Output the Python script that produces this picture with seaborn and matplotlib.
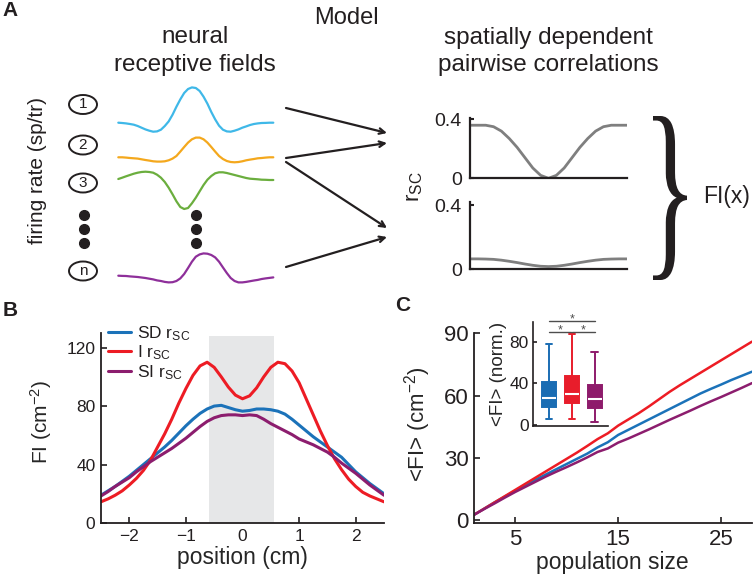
import numpy as np
import pandas as pd
import matplotlib
matplotlib.use("Agg")
import matplotlib.pyplot as plt
import seaborn as sns
from matplotlib.patches import Ellipse, PathPatch
from matplotlib.textpath import TextPath
from matplotlib.font_manager import FontProperties
from matplotlib.transforms import Affine2D
from matplotlib.colors import to_hex

#%% data
# panel A - schematic receptive fields (arbitrary units, relative to baseline)
rf_pos = [0, 0.025, 0.05, 0.075, 0.1, 0.125, 0.15, 0.175, 0.2, 0.225,
          0.25, 0.275, 0.3, 0.325, 0.35, 0.375, 0.4, 0.425, 0.45, 0.475,
          0.5, 0.525, 0.55, 0.575, 0.6, 0.625, 0.65, 0.675, 0.7, 0.725,
          0.75, 0.775, 0.8, 0.825, 0.85, 0.875, 0.9, 0.925, 0.95, 0.975, 1.0]
rf_1 = [0, -0.3, -0.7, -1.3, -2, -3.3, -5, -6.7, -8, -9,
        -8.7, -7, -3.3, 1.3, 8, 16, 23.3, 29.7, 33.7, 35.3,
        34.7, 31.7, 26, 19, 10.7, 3.3, -3, -7, -8.7, -9,
        -8, -6.7, -5, -3.7, -2.3, -1.3, -0.7, -0.3, -0.2, 0, 0]
rf_2 = [0, 0, -0.3, -0.7, -1, -1.3, -2, -2.7, -3.3, -4,
        -4.3, -4.3, -4, -3, -1.3, 1.3, 5.7, 10.3, 14.7, 18,
        19.7, 19.7, 18, 14.7, 10.3, 5.7, 1.3, -1.7, -3.7, -4.7,
        -5, -4.7, -4, -3, -2.3, -1.7, -1, -0.7, -0.3, 0, 0]
rf_3 = [0, 1.3, 2.7, 4, 5.3, 6.3, 7, 7.3, 7, 6.3,
        4.3, 1.3, -3, -8.7, -15.3, -22.3, -28, -30, -29, -24.3,
        -18.7, -12.3, -6, -0.7, 3, 5.7, 6.7, 6.7, 6, 5,
        4, 3, 2, 1, 0.3, 0, -0.3, -0.7, -0.8, -1, -1]
rf_n = [0, -0.2, -0.3, -0.7, -1, -1.3, -1.8, -2.3, -3, -3.7,
        -4.7, -5.3, -6.2, -6.7, -6.5, -5.3, -2.7, 1.7, 7.7, 14,
        19, 21.3, 22.3, 22, 20.7, 18.3, 14, 8.3, 2.7, -2.3,
        -5.3, -6.7, -6.7, -6.2, -5.5, -4.8, -4.2, -3.3, -2.7, -2.2, -1.7]
neuron_labels = ["1", "2", "3", "n"]

# panel A - spatially dependent r_sc
rsc_pos = [-1.0, -0.9, -0.8, -0.7, -0.6, -0.5, -0.4, -0.3, -0.2, -0.1, 0.0,
           0.1, 0.2, 0.3, 0.4, 0.5, 0.6, 0.7, 0.8, 0.9, 1.0]
rsc_top = [0.36, 0.36, 0.36, 0.35, 0.32, 0.27, 0.21, 0.14, 0.07, 0.02, 0.0,
           0.02, 0.07, 0.14, 0.21, 0.27, 0.32, 0.35, 0.36, 0.36, 0.36]
rsc_bottom = [0.065, 0.065, 0.064, 0.062, 0.057, 0.05, 0.042, 0.033, 0.025, 0.019, 0.017,
              0.019, 0.025, 0.033, 0.042, 0.05, 0.057, 0.062, 0.064, 0.065, 0.065]

# panel B - FI vs position
position = [-2.5, -2.375, -2.25, -2.125, -2.0, -1.875, -1.75, -1.625, -1.5, -1.375,
            -1.25, -1.125, -1.0, -0.875, -0.75, -0.625, -0.5, -0.375, -0.25, -0.125,
            0.0, 0.125, 0.25, 0.375, 0.5, 0.625, 0.75, 0.875, 1.0, 1.125,
            1.25, 1.375, 1.5, 1.625, 1.75, 1.875, 2.0, 2.125, 2.25, 2.375, 2.5]
fi_sd = [19, 22, 25, 28.5, 32, 36, 40, 44, 48, 52,
         56.5, 61.5, 66.5, 71, 75, 78, 80, 80.5, 79, 77.5,
         76.5, 77, 78, 78, 77.5, 76.5, 74.5, 71, 67, 63,
         59, 55.5, 52, 48.5, 45, 40, 35, 31, 27, 23.5, 20]
fi_i = [14.5, 16.5, 19, 22, 26, 30.5, 36, 43, 52, 61,
        71, 82, 92, 101, 107.5, 110, 106.5, 100, 93, 87.5,
        85, 87, 92.5, 100, 106.5, 110, 109, 104, 96, 85,
        74, 63, 53, 44, 36.5, 30, 25, 21, 18.5, 16.5, 14.5]
fi_si = [18.5, 21.5, 25, 28, 31, 35, 38.5, 42, 45, 48,
         51, 54.5, 58, 62, 66, 69.5, 72, 73.5, 74, 74,
         73.5, 74, 73.5, 71, 68, 65.5, 63, 60.5, 57.5, 55.5,
         53.5, 51, 48.5, 45, 41, 37.5, 34, 30, 26, 22.5, 19]

# panel C - mean FI vs population size
pop_size = [1, 2, 3, 4, 5, 6, 7, 8, 9, 10, 11, 12, 13, 14,
            15, 16, 17, 18, 19, 20, 21, 22, 23, 24, 25, 26, 27, 28]
mfi_sd = [2.5, 5.5, 8.5, 11.3, 14, 16.8, 19.5, 22, 24.5, 27, 29.5, 32, 35, 37.5,
          41, 43.5, 46, 48.5, 51, 53.5, 56, 58.5, 61, 63.2, 65.3, 67.5, 69.5, 71.5]
mfi_i = [2.5, 5.5, 8.5, 11.5, 14.5, 17.5, 20.5, 23.5, 26.5, 29.5, 32.5, 35.7, 39, 41.8,
         45.5, 48.5, 51.5, 54.8, 58.3, 61.8, 65, 68, 71, 74, 77, 80, 83, 86]
mfi_si = [2.5, 5.3, 8, 10.8, 13.5, 16, 18.5, 21, 23.3, 25.5, 27.8, 30.2, 32.8, 34.5,
          37.3, 39.3, 41.5, 43.7, 46, 48.3, 50.5, 52.7, 55, 57.2, 59.3, 61.5, 63.7, 66]

# inset - normalized <FI> summary (min, q1, median, q3, max)
box_sd = [5.5, 17.6, 26.2, 41.5, 77.4]
box_i = [6, 20.8, 29.7, 47, 87.3]
box_si = [2.6, 16, 24.6, 38.4, 69.7]

conds = ["SD", "I", "SI"]
line_colors = {"SD": "#1b72b9", "I": "#ed1c24", "SI": "#8c1d6e"}
box_colors = {"SD": "#1a6db3", "I": "#e81d2b", "SI": "#8e1b6b"}
rf_colors = ["#3fb8e8", "#f4a81d", "#6bae3e", "#8e2f9a"]
ink = "#231f20"

#%% style
sns.set_style("ticks")
plt.rcParams["font.family"] = ["Liberation Sans", "DejaVu Sans"]
plt.rcParams["mathtext.fontset"] = "custom"
plt.rcParams["mathtext.rm"] = "Liberation Sans"
plt.rcParams["mathtext.it"] = "Liberation Sans:italic"
plt.rcParams["text.color"] = ink
plt.rcParams["axes.edgecolor"] = ink
plt.rcParams["xtick.color"] = ink
plt.rcParams["ytick.color"] = ink

W, H = 753, 574
fig = plt.figure(figsize=(W / 100, H / 100), dpi=100)


def fx(x):
    return x / W


def fy(y):
    return 1 - y / H


def box(l, t, r, b):
    return [l / W, 1 - b / H, (r - l) / W, (b - t) / H]


#%% panel A (schematic, drawn in pixel space)
ax_a = fig.add_axes([0, 0, 1, 1])
ax_a.set_xlim(0, W)
ax_a.set_ylim(H, 0)
ax_a.axis("off")

rf_left, rf_width = 118.3, 155
rf_base = [122.7, 157.3, 179, 275.7]
circ_y = [104.5, 145, 183, 271]
for vals, base, c, cy, lab in zip([rf_1, rf_2, rf_3, rf_n], rf_base, rf_colors, circ_y, neuron_labels):
    xs = [rf_left + p * rf_width for p in rf_pos]
    ys = [base - v for v in vals]
    ax_a.plot(xs, ys, color=c, lw=1.6, solid_capstyle="round", solid_joinstyle="round")
    ax_a.add_patch(Ellipse((83, cy), 28, 19, fill=False, lw=1.4, ec=ink))
    ax_a.text(83, cy, lab, ha="center", va="center", fontsize=11)

for dx in [84, 196]:
    ax_a.plot([dx] * 3, [215, 229, 243], "o", ms=7, color=ink)

arrows = [((286, 108), (387, 133)), ((286, 158), (387, 143)),
          ((286, 162), (387, 228)), ((286, 267), (387, 237))]
for (x0, y0), (x1, y1) in arrows:
    ax_a.annotate("", xy=(x1, y1), xytext=(x0, y0),
                  arrowprops=dict(arrowstyle="->", lw=1.6, color=ink, mutation_scale=10,
                                  shrinkA=0, shrinkB=0))

fig.text(fx(10), fy(11), "A", fontsize=15, fontweight="bold", ha="center", va="center")
fig.text(fx(346), fy(18), "Model", fontsize=17, ha="center", va="center")
fig.text(fx(195), fy(37), "neural", fontsize=17.5, ha="center", va="center")
fig.text(fx(195), fy(65), "receptive fields", fontsize=17.5, ha="center", va="center")
fig.text(fx(548), fy(38), "spatially dependent", fontsize=17.5, ha="center", va="center")
fig.text(fx(548), fy(65), "pairwise correlations", fontsize=17.5, ha="center", va="center")
fig.text(fx(38), fy(171), "firing rate (sp/tr)", fontsize=15, rotation=90, ha="center", va="center")
fig.text(fx(415), fy(187), "r$_{\\mathrm{SC}}$", fontsize=16, rotation=90, ha="center", va="center")
fig.text(fx(727), fy(197), "FI(x)", fontsize=16.5, ha="center", va="center")

# curly brace
tp = TextPath((0, 0), "}", size=1, prop=FontProperties(family="Liberation Serif"))
ext = tp.get_extents()
bl, bt, br, bb = 653, 116, 687, 280
tr = Affine2D().translate(-ext.x0, -ext.y0).scale((br - bl) / ext.width, -(bb - bt) / ext.height).translate(bl, bb)
ax_a.add_patch(PathPatch(tr.transform_path(tp), fc=ink, ec="none"))

rsc_df = pd.DataFrame({"pos": rsc_pos, "top": rsc_top, "bottom": rsc_bottom})
for key, rect, top in [("top", box(470, 118.3, 627, 178.3), 0.407),
                       ("bottom", box(470, 202, 627, 269.3), 0.42)]:
    ax = fig.add_axes(rect)
    sns.lineplot(data=rsc_df, x="pos", y=key, color="#7f7f7f", lw=2, ax=ax)
    ax.set_xlim(-1, 1)
    ax.set_ylim(0, top)
    ax.set_xticks([])
    ax.set_yticks([0, 0.4], ["0", "0.4"])
    ax.set_xlabel("")
    ax.set_ylabel("")
    ax.tick_params(direction="in", length=3, width=1.5, labelsize=14, pad=6)
    for s in ["left", "bottom"]:
        ax.spines[s].set_linewidth(1.6)
    sns.despine(ax=ax)

#%% panel B
fi_df = pd.DataFrame({"position": position * 3,
                      "FI": fi_sd + fi_i + fi_si,
                      "cond": ["SD"] * len(position) + ["I"] * len(position) + ["SI"] * len(position)})
ax_b = fig.add_axes(box(101, 333, 384, 523))
ax_b.axvspan(-0.6, 0.55, ymin=0, ymax=128 / 130, color="#e6e7e8", lw=0)
sns.lineplot(data=fi_df, x="position", y="FI", hue="cond", hue_order=conds,
             palette=line_colors, lw=2.2, legend=False, ax=ax_b)
ax_b.set_xlim(-2.5, 2.5)
ax_b.set_ylim(0, 130)
ax_b.set_xticks([-2, -1, 0, 1, 2])
ax_b.set_yticks([0, 40, 80, 120])
ax_b.tick_params(direction="in", length=4, width=1.2, labelsize=12.5, pad=4)
for s in ["left", "bottom"]:
    ax_b.spines[s].set_linewidth(1.3)
sns.despine(ax=ax_b)
ax_b.set_xlabel("position (cm)", fontsize=16.5)
ax_b.set_ylabel("FI (cm$^{-2}$)", fontsize=15)
ax_b.xaxis.set_label_coords((242 - 101) / 283, (523 - 546) / 190)
ax_b.yaxis.set_label_coords((54 - 101) / 283, (523 - 422) / 190)
ax_b.legend(ax_b.get_lines()[:3],
            ["SD r$_{\\mathrm{SC}}$", "I r$_{\\mathrm{SC}}$", "SI r$_{\\mathrm{SC}}$"],
            loc="upper left", bbox_to_anchor=(fx(108), fy(324)), bbox_transform=fig.transFigure,
            frameon=False, fontsize=12.5, handlelength=1.35, handletextpad=0.3,
            labelspacing=0.05, borderpad=0, borderaxespad=0)
fig.text(fx(10), fy(310), "B", fontsize=15, fontweight="bold", ha="center", va="center")

#%% panel C
mfi_df = pd.DataFrame({"size": pop_size * 3,
                       "mFI": mfi_sd + mfi_i + mfi_si,
                       "cond": ["SD"] * len(pop_size) + ["I"] * len(pop_size) + ["SI"] * len(pop_size)})
ax_c = fig.add_axes(box(474, 332.7, 752, 523))
sns.lineplot(data=mfi_df, x="size", y="mFI", hue="cond", hue_order=conds,
             palette=line_colors, lw=1.8, legend=False, ax=ax_c)
ax_c.set_xlim(1, 28)
ax_c.set_ylim(-1.45, 90.3)
ax_c.set_xticks([5, 15, 25])
ax_c.set_yticks([0, 30, 60, 90])
ax_c.tick_params(direction="in", length=4, width=1.2, labelsize=16, pad=4)
for s in ["left", "bottom"]:
    ax_c.spines[s].set_linewidth(1.3)
sns.despine(ax=ax_c)
ax_c.set_xlabel("population size", fontsize=16.5)
ax_c.set_ylabel("<FI> (cm$^{-2}$)", fontsize=16)
ax_c.xaxis.set_label_coords((612 - 474) / 278, (523 - 551) / 190.3)
ax_c.yaxis.set_label_coords((433 - 474) / 278, (523 - 424) / 190.3)
fig.text(fx(403), fy(306), "C", fontsize=15, fontweight="bold", ha="center", va="center")

# inset boxplot
box_df = pd.DataFrame({"cond": ["SD"] * 5 + ["I"] * 5 + ["SI"] * 5,
                       "val": box_sd + box_i + box_si})
ax_in = fig.add_axes(box(532.7, 321.7, 608, 426))
sns.boxplot(data=box_df, x="cond", y="val", hue="cond", order=conds, hue_order=conds,
            palette=box_colors, saturation=1, width=0.6, whis=(0, 100), showfliers=False,
            linewidth=1.4, medianprops=dict(color="white", lw=1.5), legend=False, ax=ax_in)
for p, c in zip(ax_in.patches, conds):
    p.set_edgecolor(box_colors[c])
for ln in ax_in.lines:
    if to_hex(ln.get_color()) == "#ffffff":
        continue
    idx = int(round(np.mean(ln.get_xdata())))
    ln.set_color(box_colors[conds[idx]])
ax_in.set_xlim(-0.71, 2.57)
ax_in.set_ylim(-1, 99)
ax_in.set_xticks([])
ax_in.set_yticks([0, 40, 80])
ax_in.set_xlabel("")
ax_in.set_ylabel("<FI> (norm.)", fontsize=13.5)
ax_in.yaxis.set_label_coords((507 - 532.7) / 75.3, (426 - 374) / 104.3)
ax_in.tick_params(direction="in", length=3, width=1.2, labelsize=12.5, pad=3)
for s in ["left", "bottom"]:
    ax_in.spines[s].set_linewidth(1.2)
sns.despine(ax=ax_in)
for (a, b, y) in [(0, 0.98, 89.5), (1.02, 2, 89.5), (0, 2, 99.8)]:
    ax_in.plot([a, b], [y, y], color="#4d4d4d", lw=1, clip_on=False)
for (x, y) in [(0.5, 89.5), (1.5, 89.5), (1.0, 99.8)]:
    ax_in.text(x, y + 1, "*", ha="center", va="center", fontsize=9, color="#4d4d4d")

fig.savefig("out.png", dpi=100)
